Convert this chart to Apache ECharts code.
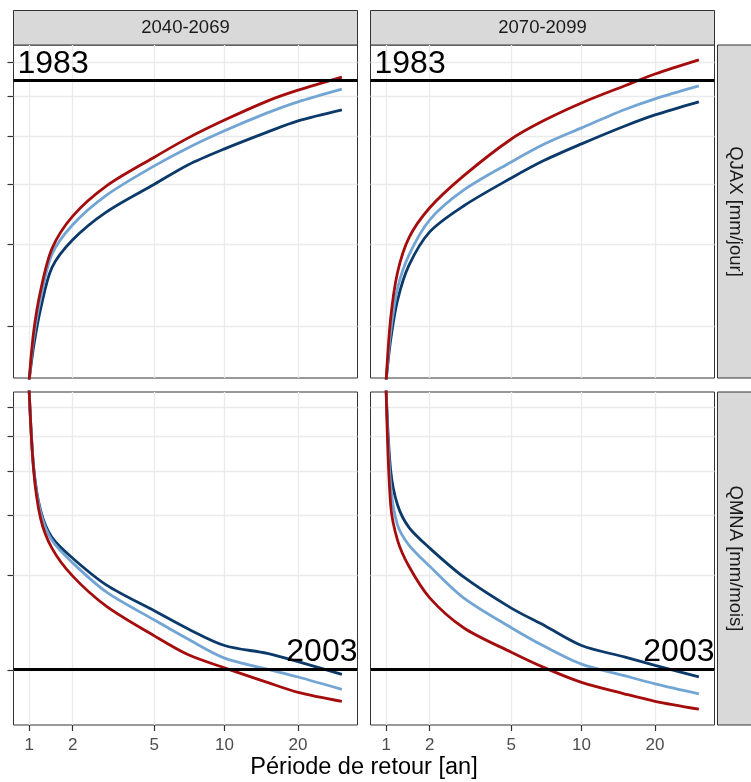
<!DOCTYPE html>
<html>
<head>
<meta charset="utf-8">
<script src="https://cdn.jsdelivr.net/npm/echarts@6/dist/echarts.min.js"></script>
<style>
  html, body { margin: 0; padding: 0; background: #fff; }
  #chart { width: 751px; height: 782px; }
</style>
</head>
<body>
<div id="chart"></div>
<script>
// périodes de retour [an]
const periods = [1, 1.1, 1.25, 1.5, 2, 3, 5, 7, 10, 15, 20, 30];
const xTicks = [1, 2, 5, 10, 20];
const facets = ['2040-2069', '2070-2099'];
const rows = ['QJAX [mm/jour]', 'QMNA [mm/mois]'];

// QJAX [mm/jour]
const qjaxTicks = [20, 30, 40, 50, 60, 70];
const qjax1Dark  = [15, 18.0, 21.8, 26.8, 30.7, 35.1, 40.0, 43.8, 47.2, 51.0, 53.7, 56.5];
const qjax1Light = [15, 18.8, 23.0, 28.6, 33.0, 38.0, 43.6, 47.4, 51.3, 55.7, 58.6, 62.1];
const qjax1Red   = [15, 19.4, 23.9, 29.4, 34.4, 39.7, 45.4, 49.6, 53.9, 58.8, 61.8, 65.6];
const qjax2Dark  = [15, 18.6, 22.8, 27.1, 31.9, 36.1, 41.2, 44.8, 48.3, 52.4, 55.2, 58.6];
const qjax2Light = [15, 19.4, 24.2, 28.5, 33.8, 38.9, 44.4, 48.3, 52.0, 56.5, 59.4, 63.0];
const qjax2Red   = [15, 20.8, 26.2, 31.0, 35.8, 41.6, 49.4, 53.9, 58.3, 63.0, 66.5, 70.9];
const qjaxRef = 64.4;   // 1983

// QMNA [mm/mois]
const qmnaTicks = [10, 20, 30, 40, 50, 60];
const qmna1Dark  = [67, 41.0, 31.0, 25.9, 22.5, 18.7, 15.6, 13.7, 12.1, 11.4, 10.7, 9.7];
const qmna1Light = [67, 40.8, 30.6, 25.4, 21.8, 17.8, 14.6, 12.7, 11.0, 10.1, 9.5, 8.6];
const qmna1Red   = [67, 40.2, 29.4, 24.1, 19.9, 16.1, 13.0, 11.3, 10.2, 9.1, 8.4, 7.8];
const qmna2Dark  = [67, 40.2, 32.1, 27.7, 24.1, 19.8, 15.9, 14.0, 12.1, 11.1, 10.4, 9.5];
const qmna2Light = [67, 36.5, 28.1, 24.6, 21.3, 17.1, 13.8, 12.0, 10.5, 9.6, 9.0, 8.3];
const qmna2Red   = [67, 32.1, 25.4, 21.3, 17.1, 13.8, 11.5, 10.2, 9.1, 8.3, 7.8, 7.3];
const qmnaRef = 10.05;  // 2003

const DARK = '#0B3A6A', LIGHT = '#72A5D4', RED = '#A50C0C';
const FONT = '"Liberation Sans", Arial, sans-serif';

// échelles transformées
const xf = t => Math.log(t) + 0.6 / t;
const qjaxF = v => Math.log(v + 4);
const qmnaF = v => Math.log(v + 3);

const chart = echarts.init(document.getElementById('chart'));

const panelW = 344, panelH = 333;
const lefts = [13.5, 370.5], tops = [45, 392];

const grids = [], xAxes = [], yAxes = [], series = [];

function curve(values, f, idx, color) {
  return {
    type: 'line', xAxisIndex: idx, yAxisIndex: idx,
    data: periods.map((t, i) => [xf(t), f(values[i])]),
    showSymbol: false, smooth: 0.3,
    lineStyle: { color: color, width: 2.8 }, clip: true, silent: true, z: 3
  };
}

const panels = [
  { r: 0, c: 0, f: qjaxF, ticks: qjaxTicks, d: qjax1Dark, l: qjax1Light, red: qjax1Red, ref: qjaxRef, txt: '1983' },
  { r: 0, c: 1, f: qjaxF, ticks: qjaxTicks, d: qjax2Dark, l: qjax2Light, red: qjax2Red, ref: qjaxRef, txt: '1983' },
  { r: 1, c: 0, f: qmnaF, ticks: qmnaTicks, d: qmna1Dark, l: qmna1Light, red: qmna1Red, ref: qmnaRef, txt: '2003' },
  { r: 1, c: 1, f: qmnaF, ticks: qmnaTicks, d: qmna2Dark, l: qmna2Light, red: qmna2Red, ref: qmnaRef, txt: '2003' }
];

const xMin = xf(1) - 0.05 * (xf(30) - xf(1));
const xMax = xf(30) + 0.05 * (xf(30) - xf(1));

panels.forEach((p, i) => {
  grids.push({
    left: lefts[p.c], top: tops[p.r], width: panelW, height: panelH,
    show: true, backgroundColor: '#fff', borderColor: '#333', borderWidth: 1
  });
  const bottomRow = p.r === 1;
  xAxes.push({
    type: 'value', gridIndex: i, min: xMin, max: xMax,
    axisLine: { show: false },
    axisTick: { show: bottomRow, length: 6, lineStyle: { color: '#333', width: 1.2 },
      customValues: xTicks.map(xf) },
    axisLabel: { show: bottomRow, margin: 12, fontFamily: FONT, fontSize: 17, color: '#4D4D4D',
      customValues: xTicks.map(xf),
      formatter: v => String(xTicks[xTicks.map(xf).findIndex(x => Math.abs(x - v) < 1e-6)]) },
    splitLine: { show: true, lineStyle: { color: '#EBEBEB', width: 1.3 } }
  });
  const yMin = p.r === 0 ? 2.9557 : 2.2374;
  const yMax = p.r === 0 ? 4.3798 : 4.2367;
  yAxes.push({
    type: 'value', gridIndex: i, min: yMin, max: yMax,
    axisLine: { show: false },
    axisTick: { show: p.c === 0, length: 6, lineStyle: { color: '#333', width: 1.2 },
      customValues: p.ticks.map(p.f) },
    axisLabel: { show: false, customValues: p.ticks.map(p.f) },
    splitLine: { show: true, lineStyle: { color: '#EBEBEB', width: 1.3 } }
  });
  series.push(curve(p.d, p.f, i, DARK));
  series.push(curve(p.l, p.f, i, LIGHT));
  const red = curve(p.red, p.f, i, RED);
  red.markLine = {
    silent: true, symbol: ['none', 'none'], animation: false,
    lineStyle: { color: '#000', width: 2.8, type: 'solid' },
    data: [{
      yAxis: p.f(p.ref),
      label: {
        show: true, formatter: p.txt,
        position: p.r === 0 ? 'insideStartTop' : 'insideEndTop',
        distance: p.r === 0 ? [4, 0] : [0, 1],
        fontFamily: FONT, fontSize: 32, color: '#000'
      }
    }]
  };
  series.push(red);
});

// bandeaux des facettes
const graphics = [];
facets.forEach((t, c) => {
  graphics.push({
    type: 'rect', shape: { x: lefts[c], y: 10.5, width: panelW, height: 34.5 },
    style: { fill: '#D9D9D9', stroke: '#333', lineWidth: 1 }, silent: true
  });
  graphics.push({
    type: 'text', x: lefts[c] + panelW / 2, y: 27.5,
    style: { text: t, fontFamily: FONT, fontSize: 18.5, fill: '#1A1A1A', align: 'center', verticalAlign: 'middle' }
  });
});
rows.forEach((t, r) => {
  graphics.push({
    type: 'rect', shape: { x: 717.5, y: tops[r], width: 36, height: panelH },
    style: { fill: '#D9D9D9', stroke: '#333', lineWidth: 1 }, silent: true
  });
  graphics.push({
    type: 'text', x: 735, y: tops[r] + panelH / 2, rotation: -Math.PI / 2,
    style: { text: t, fontFamily: FONT, fontSize: 18.5, fill: '#1A1A1A', align: 'center', verticalAlign: 'middle' }
  });
});
graphics.push({
  type: 'text', x: lefts[0] + (lefts[1] + panelW - lefts[0]) / 2, y: 768,
  style: { text: 'Période de retour [an]', fontFamily: FONT, fontSize: 23.5, fill: '#000', align: 'center', verticalAlign: 'middle' }
});

chart.setOption({
  animation: false,
  grid: grids,
  xAxis: xAxes,
  yAxis: yAxes,
  series: series,
  graphic: graphics
});
</script>
</body>
</html>
